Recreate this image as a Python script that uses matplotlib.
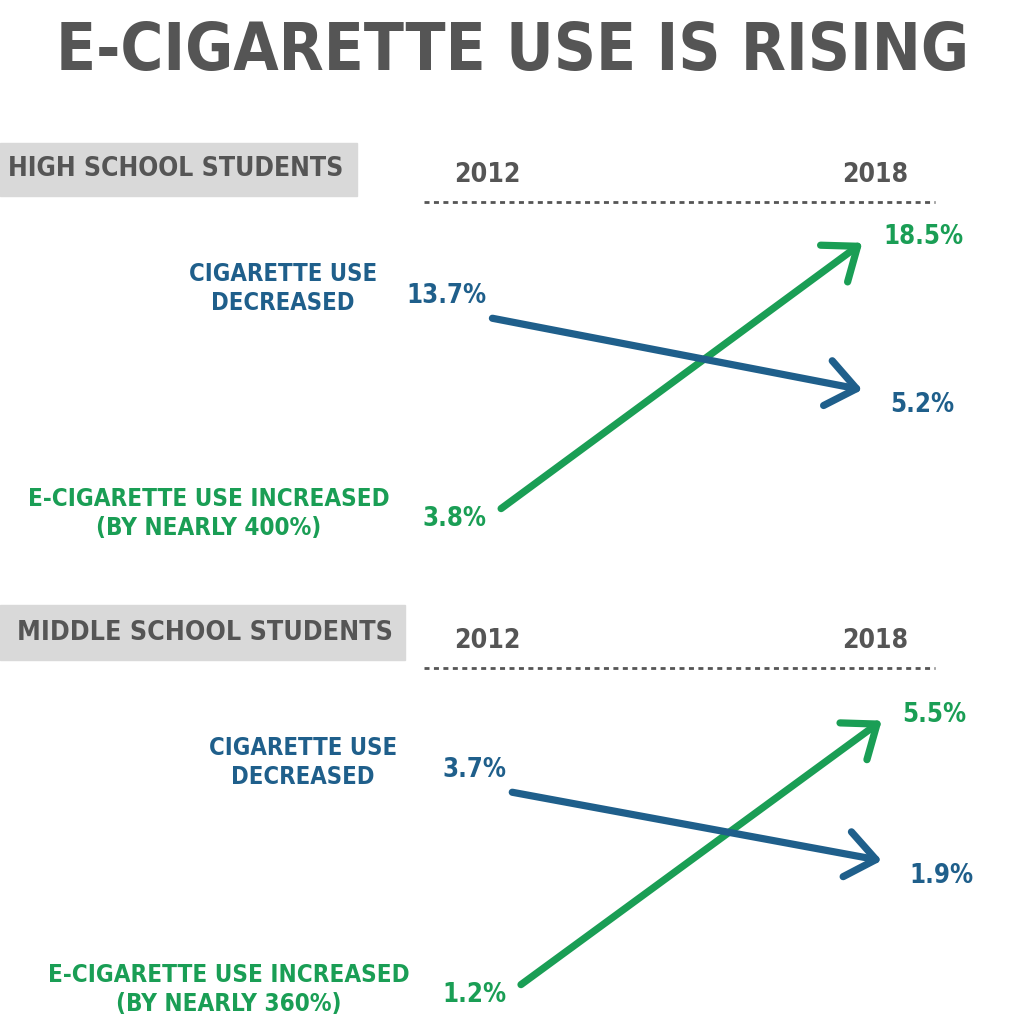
import matplotlib
matplotlib.use("Agg")
import matplotlib.pyplot as plt
from matplotlib.patches import Rectangle
from matplotlib.lines import Line2D
from matplotlib import font_manager

# data
groups = ["HIGH SCHOOL STUDENTS", "MIDDLE SCHOOL STUDENTS"]
years = [2012, 2018]
cig_2012 = [13.7, 3.7]
cig_2018 = [5.2, 1.9]
ecig_2012 = [3.8, 1.2]
ecig_2018 = [18.5, 5.5]
cig_label = "CIGARETTE USE\nDECREASED"
ecig_labels = ["E-CIGARETTE USE INCREASED\n(BY NEARLY 400%)",
               "E-CIGARETTE USE INCREASED\n(BY NEARLY 360%)"]
title = "E-CIGARETTE USE IS RISING"

BLUE = "#1f5f8b"
GREEN = "#1a9e55"
GRAY = "#555555"
BOX = "#d9d9d9"

# look for a narrow / condensed face, else fall back to DejaVu Sans
cands = [f for f in font_manager.fontManager.ttflist
         if ("ondensed" in f.fname or "arrow" in f.fname) and f.weight in (600, 700, "bold")]
if cands:
    fam, stretch = cands[0].name, cands[0].stretch
else:
    fam, stretch = "DejaVu Sans", "normal"
plt.rcParams["font.family"] = [fam, "DejaVu Sans"]
plt.rcParams["font.weight"] = "bold"
plt.rcParams["font.stretch"] = stretch

W = 1024.0
fig = plt.figure(figsize=(10.24, 10.24), dpi=100)
fig.patch.set_facecolor("white")
rend = fig.canvas.get_renderer()


def fx(x):
    return x / W


def fy(y):
    return 1 - y / W


def fit(t, width_px, max_fs):
    # shrink a text so it is no wider than the reference
    w = t.get_window_extent(rend).width
    fs = t.get_fontsize()
    t.set_fontsize(min(max_fs, fs * width_px / w))
    return t.get_fontsize()


fit(fig.text(0.5, fy(52), title, ha="center", va="center", fontsize=50, color=GRAY), 915, 62)

# layout per panel (pixel bands, scales for each side)
bands = [(140, 560), (600, 1024)]
xlims = [(2012 - 492 / 62.0, 2018 + 162 / 62.0), (2012 - 510 / 61.7, 2018 + 142 / 61.7)]
ylims_l = [(1.6, 22.6), (0.8, 6.1)]
ylims_r = [(-10.2, 27.8), (-2.3, 8.6)]
box_w = [357, 405]
box_y = [(143, 196), (605, 660)]
head_x = [8, 17]
head_w = [337, 375]
year_y = [175, 641]
dot_y = [202, 668]

for i, grp in enumerate(groups):
    top, bot = bands[i]
    ax_l = fig.add_axes([0, fy(bot), 1, (bot - top) / W])
    ax_r = ax_l.twinx()
    ax_l.set_xlim(*xlims[i])
    ax_l.set_ylim(*ylims_l[i])
    ax_r.set_ylim(*ylims_r[i])
    ax_l.axis("off")
    ax_r.axis("off")

    # header box
    y0, y1 = box_y[i]
    fig.patches.append(Rectangle((0, fy(y1)), fx(box_w[i]), (y1 - y0) / W,
                                 transform=fig.transFigure, color=BOX, zorder=0))
    fit(fig.text(fx(head_x[i]), fy((y0 + y1) / 2), grp, ha="left", va="center",
                 fontsize=24, color=GRAY), head_w[i], 25)

    # year labels and dotted rule
    for yr, xc in zip(years, [487, 875]):
        fit(fig.text(fx(xc), fy(year_y[i]), str(yr), ha="center", va="center",
                     fontsize=22, color=GRAY), 66, 23)
    fig.add_artist(Line2D([fx(424), fx(935)], [fy(dot_y[i])] * 2, transform=fig.transFigure,
                          color=GRAY, lw=2.0, linestyle=(0, (1.8, 1.6))))

    # arrows: green first so blue sits on top
    for v0, v1, col, shr in [(ecig_2012[i], ecig_2018[i], GREEN, 9),
                             (cig_2012[i], cig_2018[i], BLUE, 1)]:
        ax_l.annotate("", xy=(years[1], v1), xycoords=ax_r.transData,
                      xytext=(years[0], v0), textcoords=ax_l.transData,
                      arrowprops=dict(arrowstyle="->, head_length=1.05, head_width=0.82",
                                      mutation_scale=20, color=col, lw=5.2,
                                      shrinkA=shr, shrinkB=0,
                                      capstyle="round", joinstyle="round"))

    # value labels
    t = ax_l.annotate(f"{cig_2012[i]}%", xy=(years[0], cig_2012[i]), xytext=(-3, 16),
                      textcoords="offset points", ha="right", va="center", fontsize=21, color=BLUE)
    fs = fit(t, 80 if cig_2012[i] >= 10 else 64, 22)
    ax_l.annotate(f"{ecig_2012[i]}%", xy=(years[0], ecig_2012[i]), xytext=(-3, -2),
                  textcoords="offset points", ha="right", va="center", fontsize=fs, color=GREEN)
    ax_r.annotate(f"{ecig_2018[i]}%", xy=(years[1], ecig_2018[i]), xytext=(15, 4),
                  textcoords="offset points", ha="left", va="center", fontsize=fs, color=GREEN)
    ax_r.annotate(f"{cig_2018[i]}%", xy=(years[1], cig_2018[i]), xytext=(20, -11),
                  textcoords="offset points", ha="left", va="center", fontsize=fs, color=BLUE)

    # category labels
    t = ax_l.annotate(cig_label, xy=(years[0], cig_2012[i]), xytext=(-150, 21),
                      textcoords="offset points", ha="center", va="center", fontsize=20,
                      color=BLUE, linespacing=1.25, multialignment="center")
    fit(t, 188, 21)
    t = ax_l.annotate(ecig_labels[i], xy=(years[0], ecig_2012[i]), xytext=(-203, 2),
                      textcoords="offset points", ha="center", va="center", fontsize=20,
                      color=GREEN, linespacing=1.25, multialignment="center")
    fit(t, 360, 21)

fig.savefig("out.png", dpi=100, facecolor="white")
